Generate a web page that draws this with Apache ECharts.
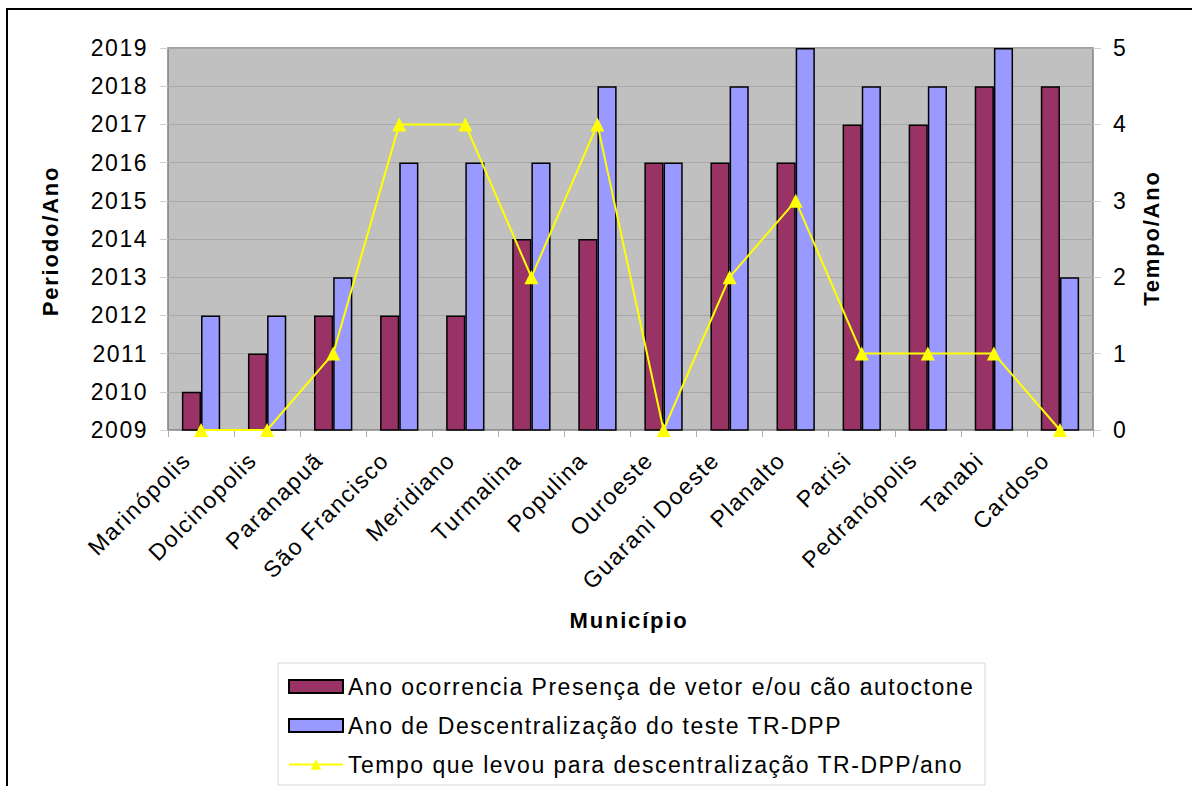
<!DOCTYPE html>
<html>
<head>
<meta charset="utf-8">
<script src="https://cdn.jsdelivr.net/npm/echarts@6/dist/echarts.min.js"></script>
<style>
  html, body { margin: 0; padding: 0; background: #fff; }
  #chart { width: 1192px; height: 786px; }
  /* wide, loosely tracked lettering */
  #chart svg text { letter-spacing: 1.5px; }
  #chart svg text[style*="bold"] { letter-spacing: 1.8px; }
</style>
</head>
<body>
<div id="chart"></div>
<script>
// Municipalities on the category axis
const municipios = ['Marinópolis', 'Dolcinopolis', 'Paranapuã', 'São Francisco', 'Meridiano',
  'Turmalina', 'Populina', 'Ouroeste', 'Guarani Doeste', 'Planalto', 'Parisi',
  'Pedranópolis', 'Tanabi', 'Cardoso'];

// Year the vector and/or autochthonous dog was first present
const anoOcorrencia = [2010, 2011, 2012, 2012, 2012, 2014, 2014, 2016, 2016, 2016, 2017, 2017, 2018, 2018];

// Year the TR-DPP test was decentralised
const anoDescentralizacao = [2012, 2012, 2013, 2016, 2016, 2016, 2018, 2016, 2018, 2019, 2018, 2018, 2019, 2013];

// Years it took to decentralise (right axis)
const tempoAnos = [0, 0, 1, 4, 4, 2, 4, 0, 2, 3, 1, 1, 1, 0];

const seriesNames = [
  'Ano ocorrencia Presença de vetor e/ou cão autoctone',
  'Ano de Descentralização do teste TR-DPP',
  'Tempo que levou para descentralização TR-DPP/ano'
];

const FONT = '"Liberation Sans", Arial, sans-serif';
const FS = 23;

const chart = echarts.init(document.getElementById('chart'), null, { renderer: 'svg' });

chart.setOption({
  animation: false,
  textStyle: { fontFamily: FONT },
  grid: {
    left: 168, top: 48, right: 99, bottom: 356,
    show: true, backgroundColor: '#c0c0c0', borderColor: '#808080', borderWidth: 1.5
  },
  legend: {
    orient: 'vertical',
    left: 283, top: 670,
    itemWidth: 54, itemHeight: 13, itemGap: 16, itemTextGap: 8,
    textStyle: { fontSize: FS, color: '#000', fontFamily: FONT },
    data: [
      { name: seriesNames[0], icon: 'rect' },
      { name: seriesNames[1], icon: 'rect' },
      { name: seriesNames[2] }
    ]
  },
  xAxis: {
    type: 'category',
    data: municipios,
    axisLine: { show: false },
    axisTick: { show: true, length: 7, lineStyle: { color: '#b0b0b0' } },
    axisLabel: {
      rotate: 45, fontSize: FS, color: '#000', margin: 28, interval: 0,
      verticalAlign: 'bottom', padding: [0, 9, 0, 0], fontFamily: FONT
    }
  },
  yAxis: [
    {
      type: 'value', min: 2009, max: 2019, interval: 1,
      axisLine: { show: false },
      axisTick: { show: true, length: 8, lineStyle: { color: '#d0d0d0' } },
      axisLabel: { fontSize: FS, color: '#000', margin: 20, fontFamily: FONT, formatter: v => String(v) },
      splitLine: { show: true, lineStyle: { color: '#a8a8a8', width: 1 } }
    },
    {
      type: 'value', min: 0, max: 5, interval: 1, position: 'right',
      axisLine: { show: false },
      axisTick: { show: true, length: 8, lineStyle: { color: '#d0d0d0' } },
      axisLabel: { fontSize: FS, color: '#000', margin: 20, fontFamily: FONT },
      splitLine: { show: false }
    }
  ],
  series: [
    {
      name: seriesNames[0], type: 'bar', data: anoOcorrencia,
      barGap: '0%', barCategoryGap: '42%',
      itemStyle: { color: '#993366', borderColor: '#000', borderWidth: 1.5 }
    },
    {
      name: seriesNames[1], type: 'bar', data: anoDescentralizacao,
      itemStyle: { color: '#9999ff', borderColor: '#000', borderWidth: 1.5 }
    },
    {
      name: seriesNames[2], type: 'line', yAxisIndex: 1, data: tempoAnos,
      symbol: 'triangle', symbolSize: 14,
      lineStyle: { color: '#ffff00', width: 2 },
      itemStyle: { color: '#ffff00' }
    }
  ],
  graphic: [
    // Outer frame of the chart
    { type: 'rect', shape: { x: 7, y: 9, width: 1300, height: 1000 },
      style: { fill: null, stroke: '#000', lineWidth: 2 }, silent: true },
    // Legend frame
    { type: 'rect', shape: { x: 278, y: 663, width: 707, height: 122 },
      style: { fill: null, stroke: '#d8d8d8', lineWidth: 1 }, silent: true },
    // Axis titles
    { type: 'text', x: 50, y: 241, rotation: Math.PI / 2,
      style: { text: 'Periodo/Ano', font: 'bold 22px ' + FONT, fill: '#000', align: 'center', verticalAlign: 'middle' } },
    { type: 'text', x: 1151, y: 238, rotation: Math.PI / 2,
      style: { text: 'Tempo/Ano', font: 'bold 22px ' + FONT, fill: '#000', align: 'center', verticalAlign: 'middle' } },
    { type: 'text', x: 629, y: 620,
      style: { text: 'Município', font: 'bold 22px ' + FONT, fill: '#000', align: 'center', verticalAlign: 'middle' } }
  ]
});
</script>
</body>
</html>
